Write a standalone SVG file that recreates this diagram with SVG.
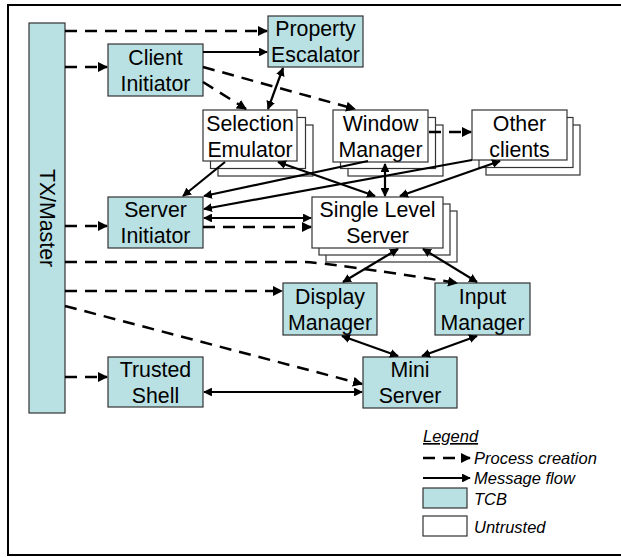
<svg xmlns="http://www.w3.org/2000/svg" width="621" height="557" viewBox="0 0 621 557">
<style>
.tcb{fill:#b9e0e3;stroke:#333;stroke-width:1.2}
.un{fill:#fff;stroke:#333;stroke-width:1.2}
.t{font-family:"Liberation Sans",Arial,sans-serif;font-size:21.3px;fill:#000;text-anchor:middle}
.lg{font-family:"Liberation Sans",Arial,sans-serif;font-size:16.5px;font-style:italic;fill:#000}
.d{fill:none;stroke:#000;stroke-width:2.5;stroke-dasharray:12 8;marker-end:url(#ah)}
.s{fill:none;stroke:#000;stroke-width:2.2;marker-end:url(#ah)}
.s2{fill:none;stroke:#000;stroke-width:2.2;marker-start:url(#ahs);marker-end:url(#ah)}
</style>
<defs>
<marker id="ah" viewBox="0 0 10 10" refX="9" refY="5" markerWidth="4" markerHeight="4" orient="auto" markerUnits="strokeWidth"><path d="M0,0 L10,5 L0,10 z" fill="#000"/></marker>
<marker id="ahs" viewBox="0 0 10 10" refX="1" refY="5" markerWidth="4" markerHeight="4" orient="auto" markerUnits="strokeWidth"><path d="M10,0 L0,5 L10,10 z" fill="#000"/></marker>
</defs>
<rect x="8" y="5" width="620" height="550" fill="#fff" stroke="#000" stroke-width="2"/>

<g id="tx-master">
<rect class="tcb" x="29" y="23" width="36" height="390"/>
<text class="t" transform="translate(40,218) rotate(90)" x="0" y="0">TX/Master</text>
</g>
<g id="property-escalator">
<rect class="tcb" x="268" y="16" width="95" height="51"/>
<text class="t" x="315.5" y="36">Property</text><text class="t" x="315.5" y="62">Escalator</text>
</g>
<g id="client-initiator">
<rect class="tcb" x="108" y="44" width="95" height="52"/>
<text class="t" x="155.5" y="65">Client</text><text class="t" x="155.5" y="91">Initiator</text>
</g>
<g id="selection-emulator">
<rect class="un" x="218" y="125" width="95" height="51"/>
<rect class="un" x="210.5" y="117.5" width="95" height="51"/>
<rect class="un" x="203" y="110" width="94" height="51"/>
<text class="t" x="250" y="131">Selection</text><text class="t" x="250" y="157">Emulator</text>
</g>
<g id="window-manager">
<rect class="un" x="348" y="125" width="95" height="51"/>
<rect class="un" x="340.5" y="117.5" width="95" height="51"/>
<rect class="un" x="333" y="110" width="95" height="52"/>
<text class="t" x="380.5" y="131">Window</text><text class="t" x="380.5" y="157">Manager</text>
</g>
<g id="other-clients">
<rect class="un" x="486" y="125" width="94" height="50"/>
<rect class="un" x="479" y="117.5" width="94" height="50"/>
<rect class="un" x="472" y="110" width="95" height="50"/>
<text class="t" x="519.5" y="131">Other</text><text class="t" x="519.5" y="157">clients</text>
</g>
<g id="server-initiator">
<rect class="tcb" x="108" y="197" width="95" height="51"/>
<text class="t" x="155.5" y="217">Server</text><text class="t" x="155.5" y="243">Initiator</text>
</g>
<g id="single-level-server">
<rect class="un" x="326" y="211" width="131" height="51"/>
<rect class="un" x="319" y="204" width="131" height="51"/>
<rect class="un" x="312" y="197" width="131" height="51"/>
<text class="t" x="377.5" y="217">Single Level</text><text class="t" x="377.5" y="243">Server</text>
</g>
<g id="display-manager">
<rect class="tcb" x="283" y="283" width="94" height="52"/>
<text class="t" x="330" y="304">Display</text><text class="t" x="330" y="330">Manager</text>
</g>
<g id="input-manager">
<rect class="tcb" x="435" y="283" width="95" height="52"/>
<text class="t" x="482.5" y="304">Input</text><text class="t" x="482.5" y="330">Manager</text>
</g>
<g id="mini-server">
<rect class="tcb" x="363" y="357" width="94" height="51"/>
<text class="t" x="410" y="377">Mini</text><text class="t" x="410" y="403">Server</text>
</g>
<g id="trusted-shell">
<rect class="tcb" x="108" y="357" width="95" height="50"/>
<text class="t" x="155.5" y="377">Trusted</text><text class="t" x="155.5" y="403">Shell</text>
</g>

<g id="connectors">
<line class="d" x1="65" y1="31" x2="267" y2="31"/>
<line class="d" x1="65" y1="67" x2="107" y2="67"/>
<line class="d" x1="203" y1="82" x2="246" y2="109"/>
<line class="d" x1="203" y1="67" x2="355" y2="109"/>
<line class="d" x1="429" y1="132" x2="471" y2="132"/>
<line class="d" x1="65" y1="226" x2="107" y2="226"/>
<line class="d" x1="203" y1="227" x2="311" y2="227"/>
<path class="d" d="M65,262 L305,262 Q330,263 457,283"/>
<line class="d" x1="65" y1="291" x2="282" y2="291"/>
<line class="d" x1="65" y1="306" x2="362" y2="384"/>
<line class="d" x1="65" y1="377" x2="107" y2="377"/>

<line class="s" x1="203" y1="52" x2="267" y2="52"/>
<line class="s2" x1="283" y1="68" x2="268" y2="109"/>
<line class="s" x1="225" y1="162" x2="183" y2="196"/>
<line class="s" x1="368" y1="161" x2="204" y2="196"/>
<line class="s" x1="472" y1="160" x2="204" y2="209"/>
<line class="s2" x1="278" y1="162" x2="375" y2="196"/>
<line class="s2" x1="385" y1="164" x2="385" y2="196"/>
<line class="s2" x1="500" y1="161" x2="400" y2="196"/>
<line class="s2" x1="204" y1="218" x2="311" y2="218"/>
<line class="s2" x1="398" y1="249" x2="343" y2="282"/>
<line class="s2" x1="423" y1="249" x2="477" y2="282"/>
<line class="s2" x1="342" y1="336" x2="398" y2="356"/>
<line class="s2" x1="477" y1="336" x2="422" y2="356"/>
<line class="s2" x1="204" y1="392" x2="362" y2="392"/>
</g>

<g id="legend">
<text class="lg" x="423" y="442" text-decoration="underline">Legend</text>
<line class="d" x1="423" y1="458" x2="470" y2="458" stroke-dasharray="11 6"/>
<text class="lg" x="474" y="464">Process creation</text>
<line class="s" x1="423" y1="478" x2="470" y2="478"/>
<text class="lg" x="474" y="484">Message flow</text>
<rect class="tcb" x="423" y="488" width="44" height="20"/>
<text class="lg" x="474" y="505">TCB</text>
<rect class="un" x="423" y="516" width="44" height="20"/>
<text class="lg" x="474" y="533">Untrusted</text>
</g>
</svg>
